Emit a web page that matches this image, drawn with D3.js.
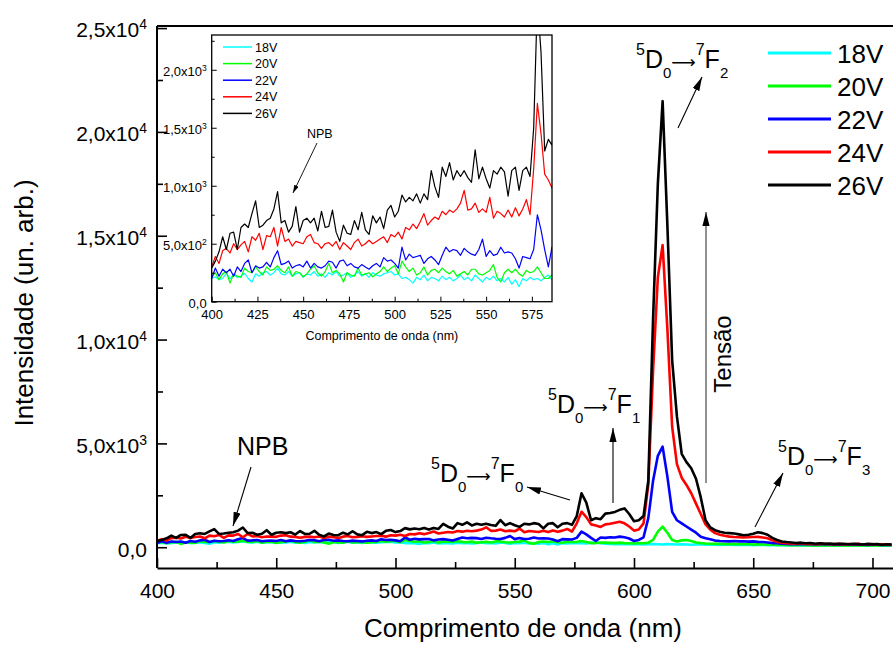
<!DOCTYPE html>
<html><head><meta charset="utf-8">
<script src="https://cdn.jsdelivr.net/npm/d3@7"></script>
<style>
body{margin:0;background:#fff}
svg{display:block;font-family:"Liberation Sans",Arial,Helvetica,sans-serif}
</style></head><body>
<svg id="chart" width="893" height="649"></svg>
<script>
// Emission spectra, intensity sampled every 2 nm starting at 400 nm
const wlStart = 400, wlStep = 2;

const v18 = [
 200,215,190,200,245,200,230,210,220,245,
 200,170,240,220,250,260,230,250,290,240,
 230,260,220,240,250,210,240,230,260,220,
 240,210,250,230,260,220,230,250,210,230,
 260,220,240,210,250,230,220,240,250,260,
 230,240,200,210,190,160,210,190,230,180,
 210,200,180,220,190,210,180,200,230,190,
 210,180,230,200,170,210,190,220,180,200,
 170,210,150,190,130,200,180,210,190,200,
 180,210,230,190,170,160,150,160,140,150,
 140,150,130,140,150,140,130,150,140,130,
 140,130,120,130,140,120,130,120,110,120,
 130,110,120,110,120,100,110,120,100,110,
 100,110,90,100,110,90,100,90,100,90,
 100,90,80,90,100,80,90,80,90,80,
 90,80,90,80,90];

const v20 = [
 215,250,190,240,260,160,240,220,210,290,
 260,250,300,260,230,300,270,280,310,270,
 250,300,220,260,250,215,240,280,310,250,
 220,260,330,250,270,240,170,250,230,220,
 290,230,240,250,215,240,260,300,260,290,
 310,240,350,300,260,290,230,250,300,230,
 270,280,250,290,260,240,270,220,240,260,
 230,280,280,240,230,250,270,320,210,170,
 250,280,250,280,240,220,270,250,260,300,
 250,200,200,230,220,210,200,220,200,190,
 180,200,190,220,350,750,990,700,350,280,
 330,350,300,230,200,180,170,160,170,150,
 150,160,140,150,140,130,140,130,120,130,
 110,120,110,100,110,100,110,90,100,90,
 100,90,100,80,90,100,90,80,90,80,
 90,80,90,80,90];

const v22 = [
 200,290,220,280,250,280,220,300,260,330,
 360,250,310,290,300,340,300,380,440,320,
 330,350,290,310,320,300,350,290,330,300,
 290,310,350,340,290,350,360,310,330,300,
 290,320,300,280,310,330,300,380,350,360,
 330,290,470,360,410,380,390,400,330,370,
 390,360,320,400,470,430,450,440,400,460,
 430,410,400,450,540,390,440,400,410,470,
 420,430,420,370,290,390,380,370,450,750,
 620,450,300,470,450,480,470,510,480,420,
 300,350,480,1400,3200,4400,4840,3400,1700,1300,
 1150,1000,850,700,500,430,380,320,300,290,
 280,300,280,290,270,280,260,250,230,200,
 190,170,160,150,160,140,150,140,130,150,
 140,130,140,120,130,140,120,130,120,110,
 130,120,110,120,110];

const v24 = [
 300,390,330,440,460,420,500,450,490,520,
 430,560,530,590,450,570,560,640,480,640,
 520,540,480,520,510,500,560,580,510,500,
 460,500,510,480,520,450,510,480,450,510,
 540,480,500,530,500,520,540,560,510,580,
 560,600,540,640,620,670,630,690,760,660,
 700,730,710,780,750,790,770,800,850,960,
 790,800,850,770,800,770,900,720,780,760,
 730,790,730,810,740,800,880,750,1150,1710,
 1450,1100,1050,980,1100,1130,1180,1230,1150,1000,
 800,850,1150,3000,8500,13000,14550,10500,5800,4000,
 3350,3000,2600,2100,1600,1100,850,680,600,550,
 510,490,480,470,480,490,500,470,430,330,
 260,220,200,180,170,190,160,170,150,160,
 170,140,150,160,130,150,140,160,130,140,
 150,130,140,120,130];

const v26 = [
 290,350,430,560,450,590,600,450,640,670,
 640,760,870,640,660,700,720,800,950,680,
 700,600,650,820,600,700,720,680,720,610,
 780,640,650,790,600,520,660,590,580,700,
 620,770,620,580,740,680,730,630,790,830,
 730,780,920,860,900,870,930,850,930,880,
 1130,990,900,1160,1080,1200,1050,1130,1080,1130,
 1070,1030,1310,1060,1160,1060,980,1130,1100,1160,
 1120,910,1130,1160,960,1130,1160,1080,1500,2600,
 2150,1300,1400,1350,1620,1650,1700,1800,1870,1600,
 1250,1300,1500,3200,11000,17500,21480,15500,9000,6300,
 4500,4100,3800,3300,2400,1300,950,820,750,700,
 680,660,620,580,600,650,720,680,600,450,
 350,280,250,230,200,220,190,200,170,190,
 160,180,150,170,160,140,170,150,130,160,
 140,150,120,140,130];

const seriesNames  = ["18V", "20V", "22V", "24V", "26V"];
const seriesValues = [v18, v20, v22, v24, v26];
const seriesColors = ["#00ffff", "#00ff00", "#0000ff", "#ff0000", "#000000"];

// main axes ticks and labels
const xTicksMain = [400, 450, 500, 550, 600, 650, 700];
const xMinorMain = [425, 475, 525, 575, 625, 675];
const yTicksMain = [0, 5000, 10000, 15000, 20000, 25000];
const yMinorMain = [2500, 7500, 12500, 17500, 22500];
const yMantMain  = ["0,0", "5,0", "1,0", "1,5", "2,0", "2,5"];
const yExpMain   = ["", "3", "4", "4", "4", "4"];

// inset axes ticks and labels
const xTicksInset = [400, 425, 450, 475, 500, 525, 550, 575];
const xMinorInset = [412.5, 437.5, 462.5, 487.5, 512.5, 537.5, 562.5];
const yTicksInset = [0, 500, 1000, 1500, 2000];
const yMinorInset = [250, 750, 1250, 1750, 2250];
const yMantInset  = ["0,0", "5,0", "1,0", "1,5", "2,0"];
const yExpInset   = ["", "2", "3", "3", "3"];

const wavelengths = v18.map((_, i) => wlStart + i * wlStep);
const series = seriesNames.map((name, k) => ({
  name, color: seriesColors[k],
  points: wavelengths.map((w, i) => [w, seriesValues[k][i]])
}));

const svg = d3.select("#chart");
const defs = svg.append("defs");

function addMarker(id, len, half, color) {
  defs.append("marker").attr("id", id)
    .attr("markerUnits", "userSpaceOnUse")
    .attr("viewBox", `0 ${-half} ${len} ${2 * half}`)
    .attr("markerWidth", len).attr("markerHeight", 2 * half)
    .attr("refX", len).attr("refY", 0).attr("orient", "auto")
    .append("path").attr("d", `M0,${-half}L${len},0L0,${half}Z`).attr("fill", color);
}
addMarker("head", 14, 3.6, "#000");
addMarker("headSmall", 8, 2.4, "#000");

function withPower(sel, mant, exp, supSize, supDy) {
  sel.each(function(d, i) {
    const t = d3.select(this);
    t.text(null);
    t.append("tspan").text(mant[i] + (exp[i] ? "x10" : ""));
    if (exp[i]) t.append("tspan").attr("font-size", supSize).attr("dy", supDy).text(exp[i]);
  });
}

// ---------- main plot ----------
const M = {left: 157, right: 893, top: 26, bottom: 568};
const x = d3.scaleLinear().domain([400, 708.6]).range([M.left, M.right]);
const y = d3.scaleLinear().domain([-1000, 25100]).range([M.bottom, M.top]);

defs.append("clipPath").attr("id", "clipMain").append("rect")
  .attr("x", M.left).attr("y", M.top).attr("width", M.right - M.left).attr("height", M.bottom - M.top);

const line = d3.line().x(d => x(d[0])).y(d => y(d[1]));
svg.append("g").attr("clip-path", "url(#clipMain)")
  .selectAll("path").data(series).join("path")
  .attr("d", d => line(d.points))
  .attr("fill", "none").attr("stroke", d => d.color)
  .attr("stroke-width", 2.6).attr("stroke-linejoin", "round");

// top frame line
svg.append("line").attr("x1", M.left).attr("x2", M.right).attr("y1", M.top).attr("y2", M.top)
  .attr("stroke", "#000").attr("stroke-width", 2);

// x axis
const gx = svg.append("g").attr("transform", `translate(0,${M.bottom})`)
  .call(d3.axisBottom(x).tickValues(xTicksMain).tickSize(-10).tickSizeOuter(0).tickPadding(15))
  .attr("font-family", null).attr("font-size", 21);
gx.selectAll(".tick text").attr("fill", "#000");
gx.append("g").call(d3.axisBottom(x).tickValues(xMinorMain).tickSize(-6).tickSizeOuter(0).tickFormat(""))
  .select(".domain").remove();
gx.selectAll("line").attr("stroke", "#000").attr("stroke-width", 1.6);
gx.select(".domain").attr("stroke", "#000").attr("stroke-width", 2);

// y axis
const gy = svg.append("g").attr("transform", `translate(${M.left},0)`)
  .call(d3.axisLeft(y).tickValues(yTicksMain).tickSize(-10).tickSizeOuter(0).tickPadding(10))
  .attr("font-family", null).attr("font-size", 21);
gy.selectAll(".tick text").attr("fill", "#000").attr("dy", "0.42em")
  .call(withPower, yMantMain, yExpMain, 14, -8);
gy.append("g").call(d3.axisLeft(y).tickValues(yMinorMain).tickSize(-6).tickSizeOuter(0).tickFormat(""))
  .select(".domain").remove();
gy.selectAll("line").attr("stroke", "#000").attr("stroke-width", 1.6);
gy.select(".domain").attr("stroke", "#000").attr("stroke-width", 2)
  .attr("d", `M0,${M.bottom}V${M.top}`);

// axis titles
svg.append("text").attr("x", 523).attr("y", 637).attr("text-anchor", "middle")
  .attr("font-size", 26).text("Comprimento de onda (nm)");
svg.append("text").attr("transform", "translate(33,303) rotate(-90)").attr("text-anchor", "middle")
  .attr("font-size", 26).text("Intensidade (un. arb.)");

// legend
const leg = svg.append("g").selectAll("g").data(series).join("g")
  .attr("transform", (d, i) => `translate(768,${53 + i * 33})`);
leg.append("line").attr("x1", 0).attr("x2", 63).attr("stroke", d => d.color).attr("stroke-width", 3);
leg.append("text").attr("x", 69).attr("y", 9.5).attr("font-size", 26).text(d => d.name);

// transition labels: 5D0 -> 7Fn
function transition(xp, base, n) {
  const t = svg.append("text").attr("x", xp).attr("y", base).attr("font-size", 25);
  t.append("tspan").attr("font-size", 16).attr("dy", -13).text("5");
  t.append("tspan").attr("dy", 13).text("D");
  t.append("tspan").attr("font-size", 15).attr("dy", 10).text("0");
  t.append("tspan").attr("font-family", "DejaVu Sans").attr("font-size", 17).attr("dy", -10).text("\u27F6");
  t.append("tspan").attr("font-size", 16).attr("dy", -13).text("7");
  t.append("tspan").attr("dy", 13).text("F");
  t.append("tspan").attr("font-size", 15).attr("dy", 10).text(n);
}
transition(636, 68, "2");
transition(548, 413, "1");
transition(431, 482, "0");
transition(778, 465, "3");

function arrow(x1, y1, x2, y2, color, w, marker) {
  svg.append("line").attr("x1", x1).attr("y1", y1).attr("x2", x2).attr("y2", y2)
    .attr("stroke", color).attr("stroke-width", w).attr("marker-end", `url(#${marker})`);
}
arrow(678, 128, 702, 77, "#000", 1.1, "head");
arrow(613, 503, 613, 428, "#000", 1.1, "head");
arrow(570, 500, 527, 487, "#000", 1.1, "head");
arrow(755, 527, 783, 473, "#000", 1.1, "head");
arrow(251, 467, 233, 526, "#000", 1.1, "head");
arrow(706, 483, 706, 212, "#555", 1.3, "head");

svg.append("text").attr("x", 237).attr("y", 455).attr("font-size", 25).text("NPB");
svg.append("text").attr("transform", "translate(731,354) rotate(-90)").attr("text-anchor", "middle")
  .attr("font-size", 24).text("Tensão");

// ---------- inset ----------
const I = {left: 211.7, right: 552, top: 35, bottom: 301.7};
const xi = d3.scaleLinear().domain([400, 586]).range([I.left, I.right]);
const yi = d3.scaleLinear().domain([0, 2300]).range([I.bottom, I.top]);
const inset = svg.append("g");
inset.append("rect").attr("x", I.left).attr("y", I.top)
  .attr("width", I.right - I.left).attr("height", I.bottom - I.top).attr("fill", "#fff");

defs.append("clipPath").attr("id", "clipInset").append("rect")
  .attr("x", I.left).attr("y", I.top).attr("width", I.right - I.left).attr("height", I.bottom - I.top);

const lineI = d3.line().x(d => xi(d[0])).y(d => yi(d[1]));
inset.append("g").attr("clip-path", "url(#clipInset)")
  .selectAll("path").data(series).join("path")
  .attr("d", d => lineI(d.points.filter(p => p[0] <= 588)))
  .attr("fill", "none").attr("stroke", d => d.color).attr("stroke-width", 1.2)
  .attr("stroke-linejoin", "round");

const gxi = inset.append("g").attr("transform", `translate(0,${I.bottom})`)
  .call(d3.axisBottom(xi).tickValues(xTicksInset).tickSize(-5).tickSizeOuter(0).tickPadding(8))
  .attr("font-family", null).attr("font-size", 13);
gxi.selectAll(".tick text").attr("fill", "#000");
gxi.append("g").call(d3.axisBottom(xi).tickValues(xMinorInset).tickSize(-3).tickSizeOuter(0).tickFormat(""))
  .select(".domain").remove();

const gyi = inset.append("g").attr("transform", `translate(${I.left},0)`)
  .call(d3.axisLeft(yi).tickValues(yTicksInset).tickSize(-5).tickSizeOuter(0).tickPadding(5))
  .attr("font-family", null).attr("font-size", 13);
gyi.selectAll(".tick text").attr("fill", "#000").attr("dy", "0.45em")
  .call(withPower, yMantInset, yExpInset, 8.5, -5);
gyi.append("g").call(d3.axisLeft(yi).tickValues(yMinorInset).tickSize(-3).tickSizeOuter(0).tickFormat(""))
  .select(".domain").remove();
inset.selectAll("line").attr("stroke", "#000");
inset.selectAll(".domain").attr("stroke", "none");

inset.append("rect").attr("x", I.left).attr("y", I.top)
  .attr("width", I.right - I.left).attr("height", I.bottom - I.top)
  .attr("fill", "none").attr("stroke", "#000").attr("stroke-width", 1.3);

inset.append("text").attr("x", (I.left + I.right) / 2).attr("y", 340).attr("text-anchor", "middle")
  .attr("font-size", 12.5).text("Comprimento de onda (nm)");

const legI = inset.append("g").selectAll("g").data(series).join("g")
  .attr("transform", (d, i) => `translate(223,${47 + i * 16.6})`);
legI.append("line").attr("x1", 0).attr("x2", 29).attr("stroke", d => d.color).attr("stroke-width", 1.5);
legI.append("text").attr("x", 32).attr("y", 4.5).attr("font-size", 12.5).text(d => d.name);

inset.append("text").attr("x", 307).attr("y", 138).attr("font-size", 12.5).text("NPB");
arrow(317, 143, 293, 193, "#000", 0.9, "headSmall");
</script>
</body></html>
